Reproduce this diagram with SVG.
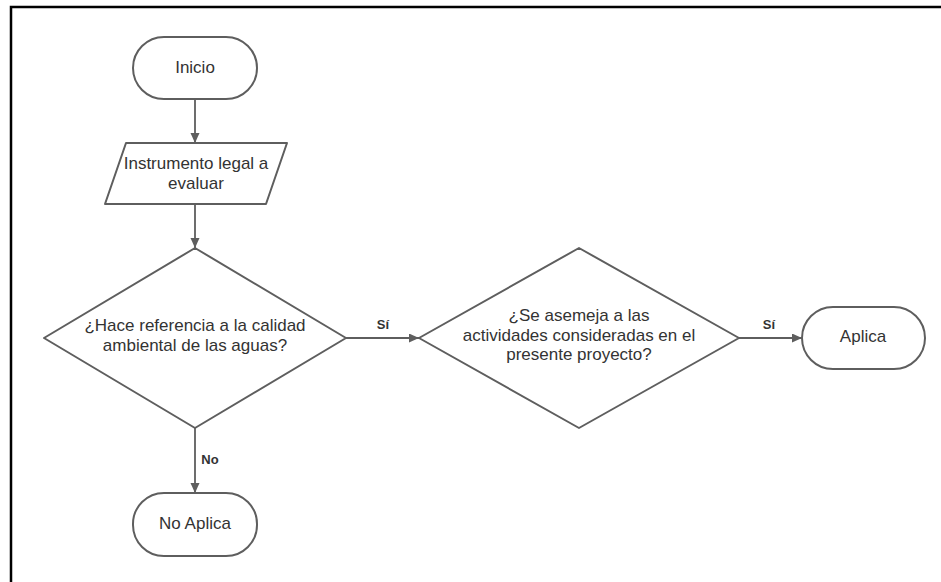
<svg xmlns="http://www.w3.org/2000/svg" width="941" height="582" viewBox="0 0 941 582">
  <style>
    .shape { fill: #ffffff; stroke: #5e5e5e; stroke-width: 2; stroke-linejoin: round; }
    .label { font-family: "Liberation Sans", Arial, sans-serif; font-size: 17px; fill: #333333; text-anchor: middle; }
    .edge { fill: none; stroke: #5e5e5e; stroke-width: 1.8; }
    .edge-label { font-family: "Liberation Sans", Arial, sans-serif; font-size: 13px; font-weight: bold; fill: #333333; text-anchor: middle; }
    .frame { fill: none; stroke: #000000; stroke-width: 2.5; }
  </style>
  <defs>
    <marker id="arrow" markerUnits="userSpaceOnUse" markerWidth="11" markerHeight="10" refX="10" refY="4.5" orient="auto">
      <path d="M0,0 L10,4.5 L0,9 Z" fill="#5e5e5e"/>
    </marker>
  </defs>

  <rect width="941" height="582" fill="#ffffff"/>
  <!-- page frame: top and left edges only -->
  <path class="frame" d="M11,582 L11,7 L941,7"/>

  <g id="connectors">
    <line class="edge" x1="195" y1="99" x2="195" y2="143" marker-end="url(#arrow)"/>
    <line class="edge" x1="195" y1="204" x2="195" y2="248" marker-end="url(#arrow)"/>
    <line class="edge" x1="346" y1="338" x2="419" y2="338" marker-end="url(#arrow)"/>
    <text class="edge-label" x="383" y="329">Sí</text>
    <line class="edge" x1="739" y1="338" x2="802" y2="338" marker-end="url(#arrow)"/>
    <text class="edge-label" x="769" y="329">Sí</text>
    <line class="edge" x1="195" y1="428" x2="195" y2="493" marker-end="url(#arrow)"/>
    <text class="edge-label" x="210" y="464">No</text>
  </g>

  <g id="inicio">
    <rect class="shape" x="133" y="37" width="124" height="62" rx="31" ry="31"/>
    <text class="label" x="195" y="72.5">Inicio</text>
  </g>

  <g id="instrumento">
    <path class="shape" d="M126,143 L287,143 L266,204 L105,204 Z"/>
    <text class="label" x="196" y="168.5">Instrumento legal a</text>
    <text class="label" x="196" y="188.5">evaluar</text>
  </g>

  <g id="decision-calidad">
    <path class="shape" d="M195,248 L346,338 L195,428 L44,338 Z"/>
    <text class="label" x="195" y="331">¿Hace referencia a la calidad</text>
    <text class="label" x="195" y="351">ambiental de las aguas?</text>
  </g>

  <g id="decision-actividades">
    <path class="shape" d="M579,248 L739,338 L579,428 L419,338 Z"/>
    <text class="label" x="579" y="321">¿Se asemeja a las</text>
    <text class="label" x="579" y="340.5">actividades consideradas en el</text>
    <text class="label" x="579" y="360">presente proyecto?</text>
  </g>

  <g id="aplica">
    <rect class="shape" x="802" y="307" width="123" height="62" rx="31" ry="31"/>
    <text class="label" x="863" y="342">Aplica</text>
  </g>

  <g id="no-aplica">
    <rect class="shape" x="133" y="493" width="124" height="63" rx="31" ry="31"/>
    <text class="label" x="195" y="529">No Aplica</text>
  </g>
</svg>
